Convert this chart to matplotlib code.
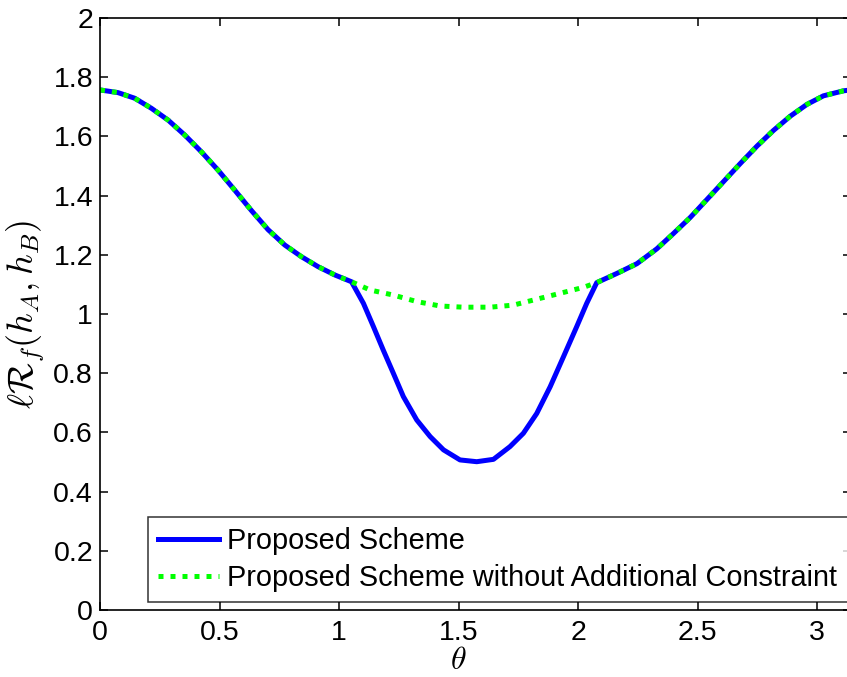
import numpy as np
import matplotlib
matplotlib.use('Agg')
import matplotlib.pyplot as plt

plt.rcParams['font.family'] = ['Liberation Sans', 'DejaVu Sans']
plt.rcParams['mathtext.fontset'] = 'cm'

# 数据
# 两条曲线共用的左段
theta_left = [0, 0.075, 0.145, 0.215, 0.285, 0.354, 0.424, 0.494, 0.563, 0.633, 0.703,
              0.773, 0.842, 0.912, 0.982, 1.052]
shared_left = [1.757, 1.748, 1.729, 1.695, 1.655, 1.605, 1.548, 1.486, 1.419, 1.350, 1.285,
               1.233, 1.194, 1.160, 1.132, 1.109]
# 中间段: Proposed Scheme
theta_dip_proposed = [1.102, 1.144, 1.185, 1.227, 1.269, 1.325, 1.381, 1.437, 1.506, 1.576,
                      1.646, 1.715, 1.771, 1.827, 1.883, 1.939, 1.994, 2.036]
proposed_dip = [1.036, 0.957, 0.878, 0.800, 0.721, 0.642, 0.586, 0.541, 0.507, 0.501,
                0.509, 0.552, 0.597, 0.664, 0.754, 0.856, 0.957, 1.036]
# 中间段: without Additional Constraint
theta_dip_nocon = [1.130, 1.227, 1.325, 1.423, 1.520, 1.632, 1.729, 1.827, 1.925, 2.022]
nocon_dip = [1.081, 1.064, 1.042, 1.027, 1.023, 1.023, 1.030, 1.050, 1.070, 1.090]
# 两条曲线共用的右段
theta_right = [2.078, 2.162, 2.246, 2.329, 2.399, 2.469, 2.538, 2.608, 2.678, 2.748,
               2.817, 2.887, 2.957, 3.026, 3.110, 3.1416]
shared_right = [1.106, 1.137, 1.170, 1.220, 1.272, 1.326, 1.386, 1.447, 1.508, 1.567,
                1.620, 1.668, 1.708, 1.737, 1.754, 1.757]

x_ticks = [0, 0.5, 1, 1.5, 2, 2.5, 3]
x_ticklabels = ['0', '0.5', '1', '1.5', '2', '2.5', '3']
y_ticks = [0, 0.2, 0.4, 0.6, 0.8, 1, 1.2, 1.4, 1.6, 1.8, 2]
y_ticklabels = ['0', '0.2', '0.4', '0.6', '0.8', '1', '1.2', '1.4', '1.6', '1.8', '2']

theta_p = theta_left + theta_dip_proposed + theta_right
y_p = shared_left + proposed_dip + shared_right
theta_n = theta_left + theta_dip_nocon + theta_right
y_n = shared_left + nocon_dip + shared_right

fig = plt.figure(figsize=(8.47, 6.77), dpi=100)
ax = fig.add_axes([100 / 847, 67 / 677, 751 / 847, 592 / 677])

ax.plot(theta_p, y_p, color='#0000ff', linewidth=3.6, label='Proposed Scheme')
ax.plot(theta_n, y_n, color='#00ff00', linewidth=3.6, linestyle=(0, (1, 1.4)),
        label='Proposed Scheme without Additional Constraint')

ax.set_xlim(0, np.pi)
ax.set_ylim(0, 2)
ax.set_xticks(x_ticks)
ax.set_xticklabels(x_ticklabels)
ax.set_yticks(y_ticks)
ax.set_yticklabels(y_ticklabels)
ax.tick_params(direction='in', length=6, width=1.1, labelsize=20.5, top=True, right=True)
ax.tick_params(axis='x', pad=7)
ax.tick_params(axis='y', pad=5)
for s in ax.spines.values():
    s.set_linewidth(1.2)

ax.set_xlabel(r'$\theta$', fontsize=23)
ax.xaxis.set_label_coords(358 / 751, -36 / 592)
ax.set_ylabel(r'$\ell\mathcal{R}_f(h_A,h_B)$', fontsize=26)
ax.yaxis.set_label_coords(-53 / 751, 0.5)

# 图例
leg = ax.legend(loc='lower left', bbox_to_anchor=(48 / 751, 8 / 592), borderaxespad=0,
                fontsize=20.8, frameon=True, fancybox=False, handlelength=2.1,
                handletextpad=0.3, borderpad=0.35, labelspacing=0.3)
leg.get_frame().set_edgecolor('black')
leg.get_frame().set_linewidth(1.1)

plt.savefig('out.png', dpi=100)
